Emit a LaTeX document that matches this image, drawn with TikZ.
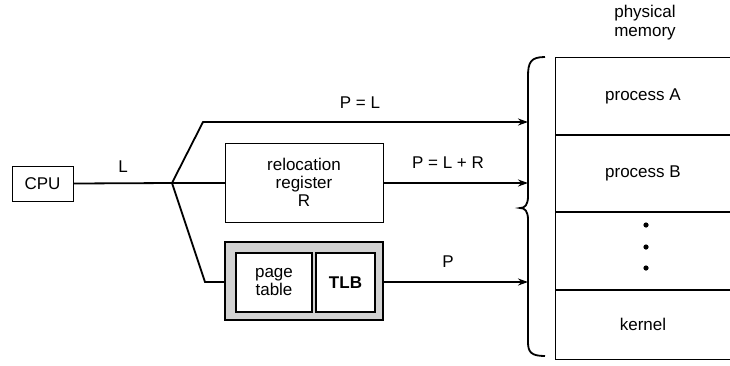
\documentclass[tikz,border=0pt]{standalone}
\usepackage{fontspec}
\setmainfont{Liberation Sans}
\usetikzlibrary{arrows.meta, positioning}

\begin{document}
\begin{tikzpicture}[x=1pt, y=-1pt]
\tikzset{
  box/.style={
    rectangle, draw, text centered, align=center,
    font=\fontsize{17}{18}\selectfont, inner sep=0pt, line width=0.9pt
  },
  inbox/.style={box, fill=white, line width=1.8pt},
  arrow/.style={-{Stealth[length=10pt, width=7pt]}, line width=1.8pt},
  wire/.style={line width=1.8pt},
  lbl/.style={font=\fontsize{17}{18}\selectfont, inner sep=0pt},
  memtext/.style={font=\fontsize{17}{19}\selectfont, inner sep=0pt},
}
\useasboundingbox (0,0) rectangle (730,365);

%% ---- CPU ----
\node[box, minimum width=61pt, minimum height=35pt] (cpu) at (42.5,183.5) {CPU};
\coordinate (split) at (172,183);
\node[lbl] (llabel) at (123,167) {L};

%% ---- RELOCATION ----
\node[box, minimum width=158pt, minimum height=79pt] (reloc) at (304,182.5)
  {relocation\\register\\R};

%% ---- PAGING ----
\node[box, fill=gray!35, line width=1.8pt, minimum width=158pt, minimum height=78pt]
  (paging) at (304,281) {};
\node[inbox, minimum width=76pt, minimum height=59pt] (ptable) at (274,282.5) {page\\table};
\node[inbox, minimum width=59pt, minimum height=59pt, font=\fontsize{17}{18}\selectfont\bfseries]
  (tlb) at (345.5,282.5) {TLB};

%% ---- MEMORY ----
\node[memtext, align=center] (phys) at (645,23) {physical\\memory};
\node[box, minimum width=175pt, minimum height=77pt, anchor=north west] (procA) at (555,57) {process A};
\node[box, minimum width=175pt, minimum height=76pt, anchor=north] (procB) at (procA.south) {process B};
\node[box, minimum width=175pt, minimum height=77pt, anchor=north] (gap) at (procB.south) {};
\node[box, minimum width=175pt, minimum height=69pt, anchor=north] (kernel) at (gap.south) {kernel};
\foreach \yy in {225,247,268}
  \fill (646,\yy) circle (2.6pt);

%% brace in front of memory
\coordinate (btop) at (545,57);
\coordinate (btip) at (520,208);
\coordinate (bbot) at (545,356);
\draw[line width=1.8pt] (btop) .. controls (531,57) and (528,62) .. (528,76)
  -- (528,196) .. controls (528,205) and (525,208) .. (btip)
  .. controls (525,208) and (528,211) .. (528,220)
  -- (528,342) .. controls (528,352) and (531,356) .. (bbot);

%% ---- CONNECTORS ----
\coordinate (tgtA) at (528,122);
\coordinate (tgtB) at (528,183);
\coordinate (tgtC) at (528,282);

\draw[wire] (cpu.east) -- (split);
\draw[wire] (split) -- (reloc.west |- split);
\draw[arrow] (split) -- (203,122) -- (tgtA);
\draw[wire] (split) -- (205,282) -- (paging.west |- tgtC);
\draw[arrow] (reloc.east |- tgtB) -- (tgtB);
\draw[arrow] (paging.east |- tgtC) -- (tgtC);

\node[lbl] (pl)  at (360,103) {P = L};
\node[lbl] (plr) at (448,163) {P = L + R};
\node[lbl] (pp)  at (448,262) {P};
\end{tikzpicture}
\end{document}
